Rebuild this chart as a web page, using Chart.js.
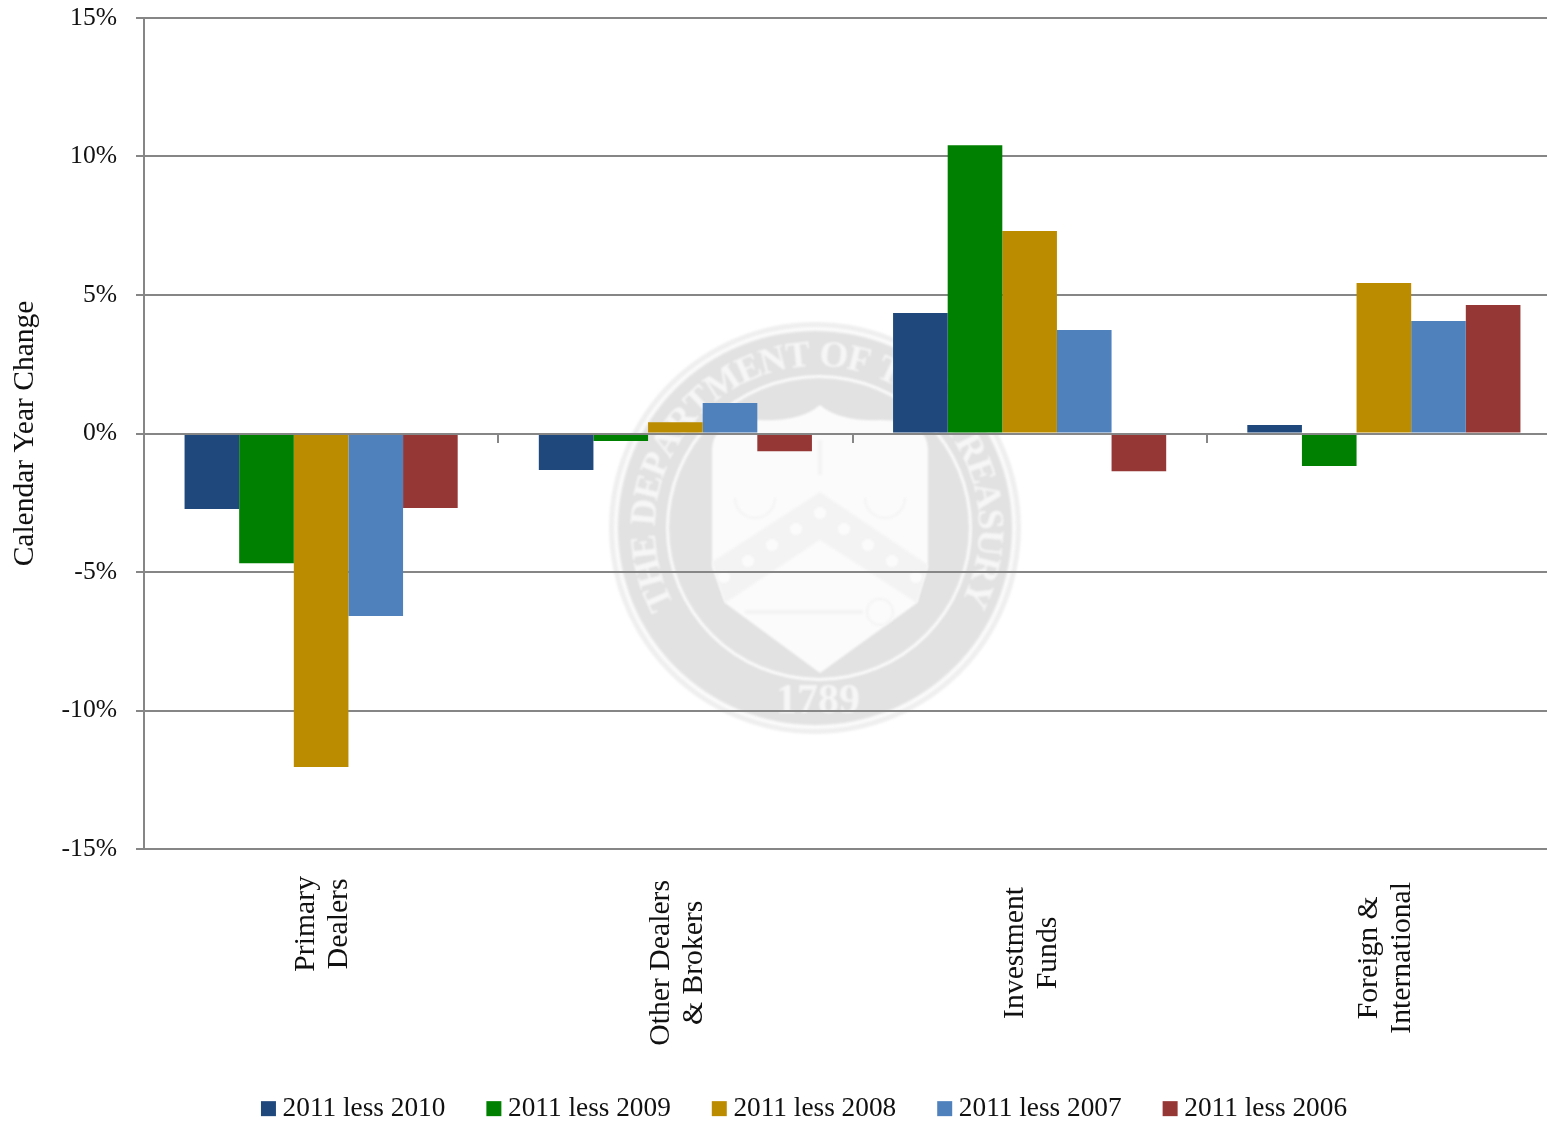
<!DOCTYPE html>
<html>
<head>
<meta charset="utf-8">
<title>Calendar Year Change</title>
<script src="https://cdn.jsdelivr.net/npm/chart.js@4/dist/chart.umd.min.js"></script>
<style>
    html, body { margin: 0; padding: 0; background: #fff; overflow: hidden; }
    canvas { display: block; }
</style>
</head>
<body>
<canvas id="bar-chart" width="1561" height="1126"></canvas>
<script>
var categories = [['Primary', 'Dealers'], ['Other Dealers', '& Brokers'], ['Investment', 'Funds'], ['Foreign &', 'International']];
var less2010 = [-2.73, -1.32, 4.35, 0.31];
var less2009 = [-4.68, -0.27, 10.41, -1.17];
var less2008 = [-12.04, 0.41, 7.31, 5.43];
var less2007 = [-6.59, 1.10, 3.74, 4.06];
var less2006 = [-2.69, -0.64, -1.36, 4.64];

var SERIF = '"Liberation Serif", serif';
var LINE = '#868686';

// treasury seal watermark behind the grid
function arcText(ctx, text, cx, cy, r, from, to) {
    var total = 0, widths = [];
    for (var i = 0; i < text.length; i++) {
        widths[i] = ctx.measureText(text[i]).width;
        total += widths[i];
    }
    var k = (to - from) / total, a = from;
    for (var j = 0; j < text.length; j++) {
        var mid = a + widths[j] * k / 2;
        ctx.save();
        ctx.translate(cx + r * Math.cos(mid), cy + r * Math.sin(mid));
        ctx.rotate(mid + Math.PI / 2);
        ctx.fillText(text[j], 0, 0);
        ctx.restore();
        a += widths[j] * k;
    }
}

function disc(ctx, x, y, r, color) {
    ctx.fillStyle = color;
    ctx.beginPath();
    ctx.arc(x, y, r, 0, Math.PI * 2);
    ctx.fill();
}

var sealPlugin = {
    id: 'seal',
    beforeDraw: function (chart) {
        var ctx = chart.ctx, cx = 817, cy = 528;
        ctx.save();
        ctx.fillStyle = '#fff';
        ctx.fillRect(0, 0, chart.width, chart.height);
        ctx.filter = 'blur(0.8px)';
        disc(ctx, 815, cy, 206, '#efefef');
        disc(ctx, 815, cy, 201, '#fafafa');
        disc(ctx, 815, cy, 197, '#e2e2e2');
        disc(ctx, 819, cy, 153, '#fafafa');
        disc(ctx, 819, cy, 150, '#e2e2e2');

        ctx.fillStyle = '#f6f6f6';
        ctx.font = 'bold 37px ' + SERIF;
        ctx.textAlign = 'center';
        ctx.textBaseline = 'alphabetic';
        arcText(ctx, 'THE DEPARTMENT OF THE TREASURY', cx, cy, 162, 152 * Math.PI / 180, 387 * Math.PI / 180);
        ctx.font = 'bold 42px ' + SERIF;
        ctx.fillText('1789', cx + 1, 713);

        // shield
        ctx.fillStyle = '#fbfbfb';
        ctx.beginPath();
        ctx.moveTo(712, 450);
        ctx.quadraticCurveTo(712, 420, 760, 420);
        ctx.quadraticCurveTo(800, 422, 820, 405);
        ctx.quadraticCurveTo(840, 422, 880, 420);
        ctx.quadraticCurveTo(928, 420, 928, 450);
        ctx.lineTo(928, 567);
        ctx.lineTo(917, 603);
        ctx.lineTo(820, 673);
        ctx.lineTo(725, 603);
        ctx.lineTo(712, 567);
        ctx.closePath();
        ctx.fill();

        // chevron with stars
        ctx.fillStyle = '#f3f3f3';
        ctx.beginPath();
        ctx.moveTo(820, 492);
        ctx.lineTo(928, 565);
        ctx.lineTo(917, 603);
        ctx.lineTo(820, 540);
        ctx.lineTo(725, 603);
        ctx.lineTo(712, 562);
        ctx.closePath();
        ctx.fill();
        for (var n = -4; n <= 4; n++) {
            disc(ctx, 820 + n * 24, 513 + Math.abs(n) * 16, 6, '#fbfbfb');
        }

        // key and scales, very faint
        ctx.strokeStyle = '#f3f3f3';
        ctx.lineWidth = 4;
        ctx.beginPath();
        ctx.moveTo(745, 612);
        ctx.lineTo(863, 612);
        ctx.moveTo(820, 440);
        ctx.lineTo(820, 475);
        ctx.stroke();
        ctx.lineWidth = 2;
        ctx.beginPath();
        ctx.arc(880, 612, 13, 0, Math.PI * 2);
        ctx.moveTo(735, 498);
        ctx.arc(755, 498, 20, Math.PI, 0, true);
        ctx.moveTo(865, 498);
        ctx.arc(885, 498, 20, Math.PI, 0, true);
        ctx.stroke();
        ctx.restore();
    }
};

// centred two line category labels, turned to read upwards
var labelPlugin = {
    id: 'categoryLabels',
    afterDraw: function (chart) {
        var ctx = chart.ctx, scale = chart.scales.x, tops = [876, 880, 887, 882], lineGap = 33;
        ctx.save();
        ctx.font = '29.7px ' + SERIF;
        ctx.fillStyle = '#111';
        ctx.textAlign = 'center';
        ctx.textBaseline = 'middle';
        categories.forEach(function (lines, i) {
            var longest = Math.max(ctx.measureText(lines[0]).width, ctx.measureText(lines[1]).width);
            ctx.save();
            ctx.translate(scale.getPixelForTick(i) + 2, tops[i] + longest / 2);
            ctx.rotate(-Math.PI / 2);
            ctx.fillText(lines[0], 0, -lineGap / 2);
            ctx.fillText(lines[1], 0, lineGap / 2);
            ctx.restore();
        });
        ctx.restore();
    }
};

var legendPlugin = {
    id: 'legendShift',
    afterLayout: function (chart) {
        chart.legend.left += 54;
        chart.legend.top = 1047;
    }
};

function series(label, color, data) {
    return { label: label, backgroundColor: color, data: data, categoryPercentage: 0.771, barPercentage: 1, xAxisID: 'x', yAxisID: 'y' };
}

var ctx = document.getElementById('bar-chart');
var chart = new Chart(ctx, {
    type: 'bar',
    data: {
        labels: categories,
        datasets: [
            series('2011 less 2010', '#1F497D', less2010),
            series('2011 less 2009', '#008000', less2009),
            series('2011 less 2008', '#BB8C00', less2008),
            series('2011 less 2007', '#4F81BD', less2007),
            series('2011 less 2006', '#953735', less2006)
        ]
    },
    plugins: [sealPlugin, labelPlugin, legendPlugin],
    options: {
        responsive: false,
        animation: false,
        layout: { padding: { top: 18 } },
        plugins: {
            tooltip: { enabled: false },
            legend: {
                position: 'bottom',
                labels: {
                    usePointStyle: true,
                    pointStyle: 'rect',
                    boxWidth: 1,
                    boxHeight: 15,
                    padding: 48,
                    color: '#111',
                    font: { family: SERIF, size: 27.3 }
                }
            }
        },
        scales: {
            x: {
                grid: { display: false },
                border: { display: false },
                ticks: { display: false },
                afterFit: function (scale) {
                    scale.height = 1126 - 849 - scale.chart.legend.height;
                }
            },
            zero: {
                axis: 'x',
                type: 'category',
                labels: categories,
                position: { y: 0 },
                offset: true,
                grid: { drawOnChartArea: false, offset: true, color: LINE, lineWidth: 2, tickLength: 8, z: 1 },
                border: { color: LINE, width: 2, z: 1 },
                ticks: { callback: function () { return ''; } }
            },
            y: {
                min: -15,
                max: 15,
                grid: { color: LINE, lineWidth: 2, tickLength: 8 },
                border: { color: LINE, width: 2 },
                ticks: {
                    stepSize: 5,
                    padding: 19,
                    color: '#111',
                    font: { family: SERIF, size: 25.6 },
                    callback: function (v) { return v + '%'; }
                },
                title: {
                    display: true,
                    text: 'Calendar Year Change',
                    color: '#111',
                    font: { family: SERIF, size: 29.5 },
                    padding: { top: 8, bottom: 0 }
                },
                afterFit: function (scale) {
                    scale.width = 144;
                    scale.paddingTop = 0;
                    scale.paddingBottom = 0;
                }
            }
        }
    }
});
</script>
</body>
</html>
